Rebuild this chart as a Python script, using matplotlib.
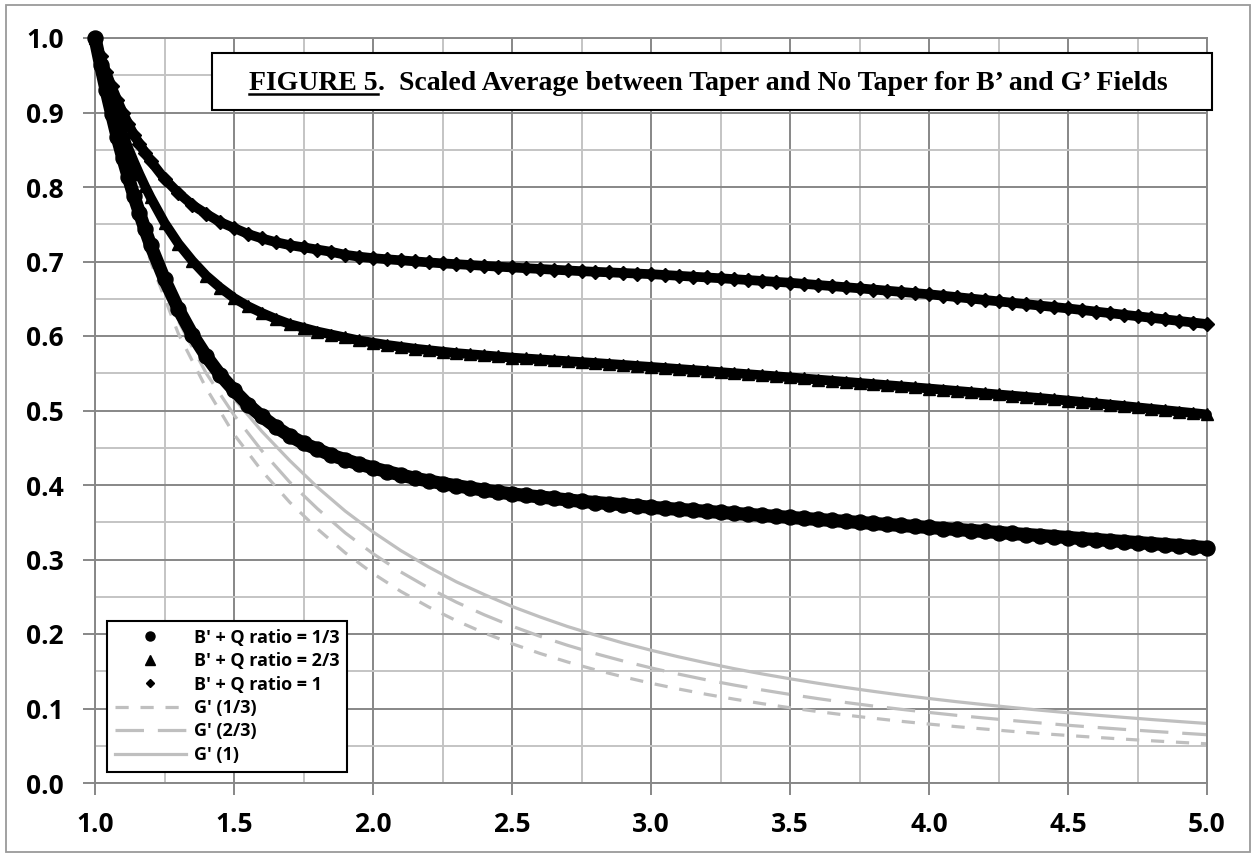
import matplotlib
matplotlib.use("Agg")
import matplotlib.pyplot as plt
from matplotlib.lines import Line2D
from matplotlib.patches import Rectangle
from matplotlib.ticker import MultipleLocator

# x positions of the B' + Q markers
xb = [1.00, 1.02, 1.04, 1.06, 1.08, 1.10, 1.12, 1.14, 1.16, 1.18, 1.20,
      1.25, 1.30, 1.35, 1.40, 1.45, 1.50, 1.55, 1.60, 1.65, 1.70, 1.75, 1.80, 1.85, 1.90, 1.95, 2.00,
      2.05, 2.10, 2.15, 2.20, 2.25, 2.30, 2.35, 2.40, 2.45, 2.50, 2.55, 2.60, 2.65, 2.70, 2.75, 2.80, 2.85, 2.90, 2.95, 3.00,
      3.05, 3.10, 3.15, 3.20, 3.25, 3.30, 3.35, 3.40, 3.45, 3.50, 3.55, 3.60, 3.65, 3.70, 3.75, 3.80, 3.85, 3.90, 3.95, 4.00,
      4.05, 4.10, 4.15, 4.20, 4.25, 4.30, 4.35, 4.40, 4.45, 4.50, 4.55, 4.60, 4.65, 4.70, 4.75, 4.80, 4.85, 4.90, 4.95, 5.00]

# B' + Q ratio = 1/3 (circles)
b_13 = [1.000, 0.964, 0.930, 0.898, 0.867, 0.839, 0.813, 0.788, 0.765, 0.743, 0.722,
        0.676, 0.636, 0.602, 0.573, 0.548, 0.527, 0.508, 0.492, 0.478, 0.466, 0.456, 0.448, 0.440, 0.434, 0.428, 0.423,
        0.418, 0.4135, 0.409, 0.4055, 0.402, 0.399, 0.396, 0.393, 0.3905, 0.388, 0.386, 0.384, 0.382, 0.380, 0.378, 0.3765, 0.375, 0.3735, 0.3718, 0.370,
        0.3687, 0.3673, 0.3660, 0.3646, 0.3632, 0.3619, 0.3605, 0.3592, 0.3578, 0.3565, 0.3551, 0.3538, 0.3524, 0.3511, 0.3497, 0.3484, 0.3470, 0.3457, 0.3443, 0.3430,
        0.3416, 0.3403, 0.3389, 0.3376, 0.3362, 0.3349, 0.3335, 0.3322, 0.3308, 0.3295, 0.3281, 0.3268, 0.3254, 0.3241, 0.3227, 0.3214, 0.3200, 0.3187, 0.3173, 0.3160]

# B' + Q ratio = 2/3 (triangles)
b_23 = [1.000, 0.970, 0.943, 0.918, 0.894, 0.873, 0.852, 0.834, 0.817, 0.801, 0.786,
        0.752, 0.724, 0.701, 0.681, 0.665, 0.651, 0.640, 0.631, 0.623, 0.616, 0.611, 0.606, 0.602, 0.598, 0.594, 0.591,
        0.588, 0.5855, 0.583, 0.581, 0.579, 0.577, 0.5755, 0.574, 0.5725, 0.571, 0.5698, 0.5686, 0.5674, 0.5662, 0.565, 0.5638, 0.5625, 0.5612, 0.5598, 0.5585,
        0.5571, 0.5557, 0.5543, 0.5529, 0.5515, 0.5501, 0.5487, 0.5473, 0.5459, 0.5445, 0.5430, 0.5415, 0.5400, 0.5385, 0.5370, 0.5355, 0.5340, 0.5325, 0.5310, 0.5295,
        0.5279, 0.5263, 0.5247, 0.5231, 0.5215, 0.5199, 0.5183, 0.5167, 0.5150, 0.5133, 0.5115, 0.5097, 0.5079, 0.5061, 0.5042, 0.5023, 0.5004, 0.4985, 0.4966, 0.4947]

# B' + Q ratio = 1 (diamonds)
b_1 = [1.000, 0.976, 0.955, 0.935, 0.917, 0.900, 0.885, 0.870, 0.858, 0.846, 0.835,
       0.811, 0.792, 0.776, 0.764, 0.753, 0.745, 0.737, 0.731, 0.726, 0.722, 0.719, 0.716, 0.713, 0.709, 0.7065, 0.7045,
       0.7030, 0.7016, 0.7002, 0.6988, 0.6975, 0.6964, 0.6953, 0.6942, 0.6931, 0.6920, 0.6910, 0.6900, 0.6890, 0.6880, 0.6870, 0.6862, 0.6854, 0.6846, 0.6838, 0.6830,
       0.6819, 0.6808, 0.6797, 0.6786, 0.6775, 0.6763, 0.6751, 0.6739, 0.6727, 0.6715, 0.6700, 0.6685, 0.6670, 0.6655, 0.6640, 0.6624, 0.6608, 0.6592, 0.6576, 0.6560,
       0.6541, 0.6522, 0.6503, 0.6484, 0.6465, 0.6446, 0.6427, 0.6408, 0.6389, 0.6370, 0.6349, 0.6328, 0.6307, 0.6286, 0.6265, 0.6244, 0.6223, 0.6202, 0.6181, 0.6160]

# x positions of the G' curves
xg = [1.0, 1.1, 1.2, 1.3, 1.4, 1.5, 1.6, 1.7, 1.8, 1.9, 2.0,
      2.1, 2.2, 2.3, 2.4, 2.5, 2.6, 2.7, 2.8, 2.9, 3.0,
      3.1, 3.2, 3.3, 3.4, 3.5, 3.6, 3.7, 3.8, 3.9, 4.0,
      4.1, 4.2, 4.3, 4.4, 4.5, 4.6, 4.7, 4.8, 4.9, 5.0]

g_13 = [1.000, 0.830, 0.700, 0.603, 0.530, 0.468, 0.419, 0.377, 0.3411, 0.3090, 0.2813,
        0.2572, 0.2363, 0.2178, 0.2015, 0.1870, 0.1740, 0.1624, 0.1519, 0.1425, 0.1339,
        0.1261, 0.1190, 0.1125, 0.1065, 0.1010, 0.0959, 0.0912, 0.0869, 0.0828, 0.0791,
        0.0756, 0.0724, 0.0693, 0.0664, 0.0638, 0.0613, 0.0589, 0.0567, 0.0546, 0.0526]

g_23 = [1.000, 0.840, 0.715, 0.620, 0.550, 0.494, 0.446, 0.404, 0.3682, 0.3358, 0.3078,
        0.2833, 0.2618, 0.2427, 0.2258, 0.2106, 0.1970, 0.1848, 0.1737, 0.1637, 0.1545,
        0.1461, 0.1384, 0.1314, 0.1249, 0.1189, 0.1133, 0.1081, 0.1033, 0.0989, 0.0947,
        0.0908, 0.0872, 0.0838, 0.0806, 0.0775, 0.0747, 0.0720, 0.0695, 0.0671, 0.0648]

g_1 = [1.000, 0.850, 0.728, 0.635, 0.568, 0.516, 0.472, 0.433, 0.397, 0.365, 0.337,
       0.312, 0.290, 0.270, 0.253, 0.237, 0.223, 0.210, 0.1986, 0.1879, 0.1782,
       0.1693, 0.1611, 0.1534, 0.1464, 0.1399, 0.1339, 0.1282, 0.1230, 0.1180, 0.1134,
       0.1091, 0.1051, 0.1013, 0.0977, 0.0943, 0.0911, 0.0881, 0.0852, 0.0825, 0.0799]

x_ticks = [1.0, 1.5, 2.0, 2.5, 3.0, 3.5, 4.0, 4.5, 5.0]
x_labels = ['1.0', '1.5', '2.0', '2.5', '3.0', '3.5', '4.0', '4.5', '5.0']
y_ticks = [0.0, 0.1, 0.2, 0.3, 0.4, 0.5, 0.6, 0.7, 0.8, 0.9, 1.0]
y_labels = ['0.0', '0.1', '0.2', '0.3', '0.4', '0.5', '0.6', '0.7', '0.8', '0.9', '1.0']

labels = ["B' + Q ratio = 1/3", "B' + Q ratio = 2/3", "B' + Q ratio = 1",
          "G' (1/3)", "G' (2/3)", "G' (1)"]
title_a = "FIGURE 5"
title_b = ".  Scaled Average between Taper and No Taper for B\u2019 and G\u2019 Fields"

plt.rcParams['font.family'] = ['Open Sans', 'DejaVu Sans']
plt.rcParams['lines.scale_dashes'] = False

MAJOR = '#878787'
MINOR = '#c4c4c4'
GRAY = '#bfbfbf'
SHORT = (9.5, 8.5)
LONG = (20.5, 10)

W, H = 1255, 856
fig = plt.figure(figsize=(W / 100, H / 100), dpi=100)
ax = fig.add_axes([95 / W, 1 - 783 / H, 1112 / W, 745 / H])

ax.set_xlim(1, 5)
ax.set_ylim(0, 1)
ax.xaxis.set_minor_locator(MultipleLocator(0.25))
ax.yaxis.set_minor_locator(MultipleLocator(0.05))
ax.set_xticks(x_ticks, x_labels, fontweight='bold', fontsize=19)
ax.set_yticks(y_ticks, y_labels, fontweight='bold', fontsize=19)
ax.grid(which='minor', color=MINOR, lw=1.4)
ax.grid(which='major', color=MAJOR, lw=1.4)
ax.set_axisbelow(True)
for s in ax.spines.values():
    s.set_color(MAJOR)
    s.set_linewidth(1.4)
ax.tick_params(which='major', length=8.5, width=1.4, color=MAJOR)
ax.tick_params(axis='x', which='major', pad=12)
ax.tick_params(axis='y', which='major', pad=14)
ax.tick_params(which='minor', length=0)

# G' curves
ax.plot(xg, g_13, color=GRAY, lw=2.3, dashes=SHORT, zorder=2)
ax.plot(xg, g_23, color=GRAY, lw=2.3, dashes=LONG, zorder=2)
ax.plot(xg, g_1, color=GRAY, lw=2.3, zorder=2)

# B' + Q curves: a thick band underneath plus the markers
for y, mk, ms, lw in [(b_13, 'o', 10.8, 9.5), (b_23, '^', 9.2, 7.0), (b_1, 'D', 7.2, 7.0)]:
    ax.plot(xb, y, color='k', lw=lw, solid_capstyle='round', zorder=3, clip_on=False)
    ax.plot(xb, y, ls='none', marker=mk, ms=ms, color='k', zorder=4, clip_on=False)

handles = [Line2D([], [], ls='none', marker='o', ms=6.5, color='k'),
           Line2D([], [], ls='none', marker='^', ms=6.5, color='k'),
           Line2D([], [], ls='none', marker='D', ms=4.5, color='k'),
           Line2D([], [], color=GRAY, lw=2.3, dashes=SHORT),
           Line2D([], [], color=GRAY, lw=2.3, dashes=LONG),
           Line2D([], [], color=GRAY, lw=2.3)]
leg = ax.legend(handles, labels, loc='lower left', bbox_to_anchor=(12 / 1112, 11 / 745),
                borderaxespad=0, fancybox=False, framealpha=1, edgecolor='black',
                handlelength=3.9, handletextpad=0.45, labelspacing=0.3, borderpad=0.45,
                prop={'family': 'Open Sans', 'weight': 'bold', 'size': 13})
leg.get_frame().set_linewidth(1.5)

# outer chart border
fig.patches.append(Rectangle((6 / W, 4 / H), 1244 / W, 847 / H, transform=fig.transFigure,
                             fill=False, ec='#9a9a9a', lw=1.3, zorder=0))

# title box
fig.patches.append(Rectangle((212 / W, 1 - 110 / H), 1000 / W, 57 / H, transform=fig.transFigure,
                             fc='white', ec='black', lw=1.5, zorder=5))
base = 1 - 89.5 / H
tfont = dict(family='Liberation Serif', weight='bold', size=20)
t1 = fig.text(249 / W, base, title_a, va='baseline', zorder=6, **tfont)
r = fig.canvas.get_renderer()
bb = t1.get_window_extent(r)
fig.text(bb.x1 / W, base, title_b, va='baseline', zorder=6, **tfont)
uy = base - 4.5 / H
fig.add_artist(Line2D([bb.x0 / W, bb.x1 / W], [uy, uy], transform=fig.transFigure,
                      color='black', lw=1.8, zorder=6))

fig.savefig('out.png', dpi=100)
